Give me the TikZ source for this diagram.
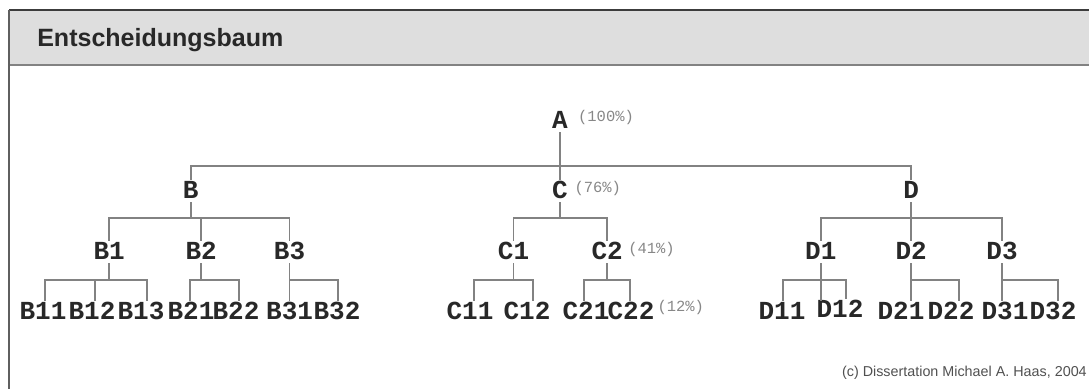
\documentclass[tikz,border=0pt]{standalone}
\usepackage{fontspec}
\setmainfont{Liberation Sans}
\newfontfamily\treefont{Liberation Mono}
\usepackage{tikz}
\usetikzlibrary{positioning}
\definecolor{cframe}{RGB}{60,60,60}
\definecolor{cedge} {RGB}{95,95,95}
\definecolor{cband} {RGB}{222,222,222}
\definecolor{cline} {RGB}{130,130,130}
\definecolor{ctext} {RGB}{40,40,40}
\definecolor{cpct}  {RGB}{135,135,135}
\definecolor{ccred} {RGB}{80,80,80}
\tikzset{
  lab/.style={font=\treefont\bfseries\fontsize{18.5pt}{20pt}\selectfont, text=ctext,
              inner xsep=1pt, inner ysep=0.09cm, text height=0.375cm, text depth=0pt},
  pct/.style={font=\treefont\fontsize{11pt}{12pt}\selectfont, text=cpct,
              inner sep=0pt, yshift=0.075cm},
  edge/.style={draw=cline, line width=1.2pt},
  hdr/.style={font=\bfseries\fontsize{17.8pt}{20pt}\selectfont, text=ctext, anchor=west, inner sep=0pt},
  cred/.style={font=\fontsize{10.2pt}{12pt}\selectfont, text=ccred, anchor=east, inner sep=0pt},
}

\begin{document}
\begin{tikzpicture}
  \useasboundingbox (0,0) rectangle (27.225,-9.725);

  % ── Frame and title band ───────────────────────────────────────────────────
  \fill[cband] (0.225,-0.25) rectangle (27.225,-1.625);
  \draw[cline, line width=1.4pt] (0.225,-1.625) -- (27.225,-1.625);
  \draw[cframe, line width=1.4pt] (0.225,-0.25) -- (27.225,-0.25);
  \draw[cedge, line width=1.4pt] (0.225,-0.25) -- (0.225,-9.725);
  \node[hdr] (title) at (0.925,-1.0) {Entscheidungsbaum};

  % ── Bus levels ─────────────────────────────────────────────────────────────
  \coordinate (bus1) at (0,-4.15);
  \coordinate (bus2) at (0,-5.45);
  \coordinate (bus3) at (0,-7.0);

  % ── Nodes ──────────────────────────────────────────────────────────────────
  \node[lab] at (14.0,  -3.02) (A)  {A};
  \node[lab] at (4.77,  -4.775)(B)  {B};
  \node[lab] at (14.0,  -4.775)(C)  {C};
  \node[lab] at (22.78, -4.775)(D)  {D};

  \node[lab] at (2.73,  -6.3) (B1) {B1};
  \node[lab] at (5.03,  -6.3) (B2) {B2};
  \node[lab] at (7.24,  -6.3) (B3) {B3};
  \node[lab] at (12.84, -6.3) (C1) {C1};
  \node[lab] at (15.18, -6.3) (C2) {C2};
  \node[lab] at (20.52, -6.3) (D1) {D1};
  \node[lab] at (22.78, -6.3) (D2) {D2};
  \node[lab] at (25.05, -6.3) (D3) {D3};

  \node[lab] at (1.075, -7.8) (B11) {B11};
  \node[lab] at (2.3,   -7.8) (B12) {B12};
  \node[lab] at (3.525, -7.8) (B13) {B13};
  \node[lab] at (4.775, -7.8) (B21) {B21};
  \node[lab] at (5.9,   -7.8) (B22) {B22};
  \node[lab] at (7.24,  -7.8) (B31) {B31};
  \node[lab] at (8.425, -7.8) (B32) {B32};
  \node[lab] at (11.75, -7.8) (C11) {C11};
  \node[lab] at (13.175,-7.8) (C12) {C12};
  \node[lab] at (14.65, -7.8) (C21) {C21};
  \node[lab] at (15.775,-7.8) (C22) {C22};
  \node[lab] at (19.55, -7.8) (D11) {D11};
  \node[lab] at (21.0,  -7.75)(D12) {D12};
  \node[lab] at (22.525,-7.8) (D21) {D21};
  \node[lab] at (23.775,-7.8) (D22) {D22};
  \node[lab] at (25.125,-7.8) (D31) {D31};
  \node[lab] at (26.325,-7.8) (D32) {D32};

  % shares of the cases
  \node[pct, right=0.21cm of A]   (pA)   {(100\%)};
  \node[pct, right=0.12cm of C]   (pC)   {(76\%)};
  \node[pct, right=0.09cm of C2]  (pC2)  {(41\%)};
  \node[pct, right=0.03cm of C22, yshift=0.05cm] (pC22) {(12\%)};

  % ── Branches ───────────────────────────────────────────────────────────────
  \draw[edge] (A.south) -- (C.north);
  \draw[edge] (A.south |- bus1) -| (B.north);
  \draw[edge] (A.south |- bus1) -| (D.north);

  \draw[edge] (B.south) -- (B.south |- bus2) -| (B1.north);
  \draw[edge] (B.south |- bus2) -| (B2.north);
  \draw[edge] (B.south |- bus2) -| (B3.north);
  \draw[edge] (C.south) -- (C.south |- bus2) -| (C1.north);
  \draw[edge] (C.south |- bus2) -| (C2.north);
  \draw[edge] (D.south) -- (D2.north);
  \draw[edge] (D.south |- bus2) -| (D1.north);
  \draw[edge] (D.south |- bus2) -| (D3.north);

  \draw[edge] (B1.south) -- (B1.south |- bus3) -| ([xshift=0.05cm]B11.north);
  \draw[edge] (B1.south |- bus3) -| ([xshift=0.075cm]B12.north);
  \draw[edge] (B1.south |- bus3) -| ([xshift=0.15cm]B13.north);
  \draw[edge] (B2.south) -- (B2.south |- bus3) -| ([xshift=-0.025cm]B21.north);
  \draw[edge] (B2.south |- bus3) -| ([xshift=0.075cm]B22.north);
  \draw[edge] (B3.south) -- (B31.north);
  \draw[edge] (B3.south |- bus3) -| ([xshift=0.025cm]B32.north);

  \draw[edge] (C1.south) -- (C1.south |- bus3) -| ([xshift=0.1cm]C11.north);
  \draw[edge] (C1.south |- bus3) -| ([xshift=0.15cm]C12.north);
  \draw[edge] (C2.south) -- (C2.south |- bus3) -| ([xshift=-0.05cm]C21.north);
  \draw[edge] (C2.south |- bus3) -| ([xshift=-0.025cm]C22.north);

  \draw[edge] (D1.south) -- (D1.south |- D11.north);
  \draw[edge] (D1.south |- bus3) -| ([xshift=0.025cm]D11.north);
  \draw[edge] (D1.south |- bus3) -| ([xshift=0.15cm]D12.north);
  \draw[edge] (D2.south) -- (D2.south |- D21.north);
  \draw[edge] (D2.south |- bus3) -| ([xshift=0.2cm]D22.north);
  \draw[edge] (D3.south) -- (D3.south |- D31.north);
  \draw[edge] (D3.south |- bus3) -| ([xshift=0.125cm]D32.north);

  % ── Credit line ────────────────────────────────────────────────────────────
  \node[cred] (credit) at (27.175,-9.325) {(c) Dissertation Michael A. Haas, 2004};
\end{tikzpicture}
\end{document}
